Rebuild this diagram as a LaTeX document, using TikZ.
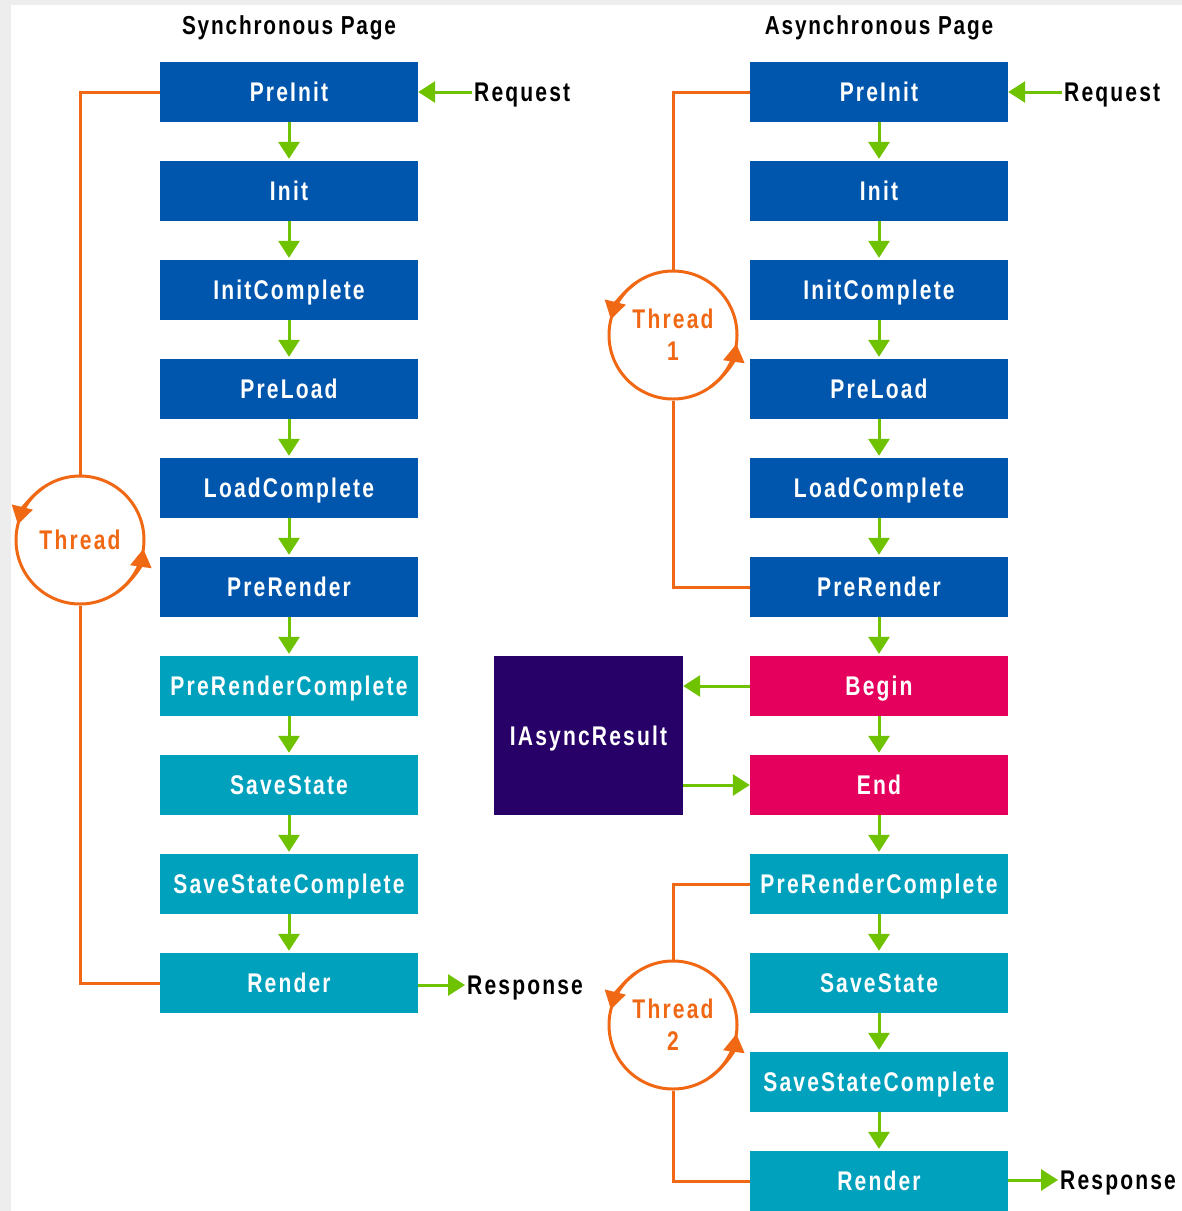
\documentclass[tikz,border=0pt]{standalone}
\usepackage{fontspec}
\newfontfamily\dfont{Liberation Sans}[FakeStretch=0.78,LetterSpace=8]
\newfontfamily\hfont{Liberation Sans}[FakeStretch=0.8,LetterSpace=7]
\usetikzlibrary{arrows.meta}
\definecolor{pblue}{RGB}{0,86,172}
\definecolor{pteal}{RGB}{0,161,189}
\definecolor{pmag}{RGB}{230,0,94}
\definecolor{pnavy}{RGB}{39,0,104}
\definecolor{pgreen}{RGB}{110,194,0}
\definecolor{porange}{RGB}{240,104,20}
\tikzset{
  box/.style={minimum width=258pt, minimum height=60pt, inner sep=0pt, text=white,
    text height=19pt, text depth=0pt,
    font=\dfont\bfseries\fontsize{27pt}{30pt}\selectfont},
  bluebox/.style={box, fill=pblue},
  tealbox/.style={box, fill=pteal},
  magbox/.style={box, fill=pmag},
  navybox/.style={box, fill=pnavy, minimum width=189pt, minimum height=159pt},
  garrow/.style={draw=pgreen, line width=3pt, -{Triangle[width=21pt,length=17pt]}, shorten >=2pt},
  othread/.style={draw=porange, line width=3pt},
  ohead/.style={othread, -{Triangle[width=21pt,length=18pt]}},
  tcircle/.style={circle, draw=porange, line width=3pt, minimum size=128pt, inner sep=0pt,
    text=porange, align=center, font=\dfont\bfseries\fontsize{27pt}{32pt}\selectfont},
  label/.style={inner sep=2pt, text=black, text height=19pt, text depth=0pt,
    font=\dfont\bfseries\fontsize{27pt}{30pt}\selectfont},
  header/.style={inner sep=0pt, text=black, font=\hfont\bfseries\fontsize{26pt}{28pt}\selectfont}
}
\begin{document}
\begin{tikzpicture}[x=1pt,y=1pt]
\fill[white] (0,0) rectangle (1182,-1211);
\useasboundingbox (0,0) rectangle (1182,-1211);
\fill[black!7] (0,0) rectangle (1182,-5);
\fill[black!7] (0,0) rectangle (11,-1211);

% headers
\node[header] (hs) at (289,-28) {Synchronous Page};
\node[header] (ha) at (879,-28) {Asynchronous Page};

% left column
\foreach \n/\t/\s [count=\i from 0] in {L0/PreInit/bluebox, L1/Init/bluebox, L2/InitComplete/bluebox,
  L3/PreLoad/bluebox, L4/LoadComplete/bluebox, L5/PreRender/bluebox, L6/PreRenderComplete/tealbox,
  L7/SaveState/tealbox, L8/SaveStateComplete/tealbox, L9/Render/tealbox}
  \node[\s] (\n) at (289,{-92-99*\i}) {\t};

% right column
\foreach \n/\t/\s [count=\i from 0] in {R0/PreInit/bluebox, R1/Init/bluebox, R2/InitComplete/bluebox,
  R3/PreLoad/bluebox, R4/LoadComplete/bluebox, R5/PreRender/bluebox, R6/Begin/magbox, R7/End/magbox,
  R8/PreRenderComplete/tealbox, R9/SaveState/tealbox, R10/SaveStateComplete/tealbox, R11/Render/tealbox}
  \node[\s] (\n) at (879,{-92-99*\i}) {\t};

\node[navybox] (IA) at (588.5,-735.5) {IAsyncResult};

% green arrows between boxes
\foreach \a/\b in {L0/L1, L1/L2, L2/L3, L3/L4, L4/L5, L5/L6, L6/L7, L7/L8, L8/L9,
  R0/R1, R1/R2, R2/R3, R3/R4, R4/R5, R5/R6, R6/R7, R7/R8, R8/R9, R9/R10, R10/R11}
  \draw[garrow] (\a) -- (\b);

% request / response
\node[label, anchor=west] (reqL) at (472,-92) {Request};
\node[label, anchor=west] (reqR) at (1062,-92) {Request};
\node[label, anchor=west] (resL) at (465,-985) {Response};
\node[label, anchor=west] (resR) at (1058,-1180) {Response};
\draw[garrow, shorten >=0pt] (reqL.west) -- (L0.east);
\draw[garrow, shorten >=0pt] (reqR.west) -- (R0.east);
\draw[garrow, shorten >=0pt] (L9.east |- resL.west) -- (resL.west);
\draw[garrow, shorten >=0pt] (R11.east |- resR.west) -- (resR.west);

% begin/end with IAsyncResult
\draw[garrow, shorten >=0pt] (R6.west) -- (IA.east |- R6.west);
\coordinate (iaout) at (IA.east |- R7.west);
\draw[garrow, shorten >=0pt] (iaout) -- (R7.west);

% threads
\node[tcircle] (T0) at (80,-540) {Thread};
\node[tcircle] (T1) at (673,-335) {\raisebox{-3pt}{Thread}\\\raisebox{-3pt}{1}};
\node[tcircle] (T2) at (673,-1025) {\raisebox{-3pt}{Thread}\\\raisebox{-3pt}{2}};

\draw[othread] (L0.west) -- (80,-92) -- (T0.north);
\draw[othread] (T0.south) -- (80,-983) -- (L9.west);
\draw[othread] (R0.west) -- (673,-92) -- (T1.north);
\draw[othread] (T1.south) -- (673,-587) -- (R5.west);
\draw[othread] (R8.west) -- (673,-884) -- (T2.north);
\draw[othread] (T2.south) -- (673,-1181) -- (R11.west);

\foreach \t in {T0,T1,T2}{
  \draw[ohead] (\t.center) ++(125:64) arc[start angle=125, end angle=166, radius=64];
  \draw[ohead] (\t.center) ++(-55:64) arc[start angle=-55, end angle=-8, radius=64];
}
\end{tikzpicture}
\end{document}
